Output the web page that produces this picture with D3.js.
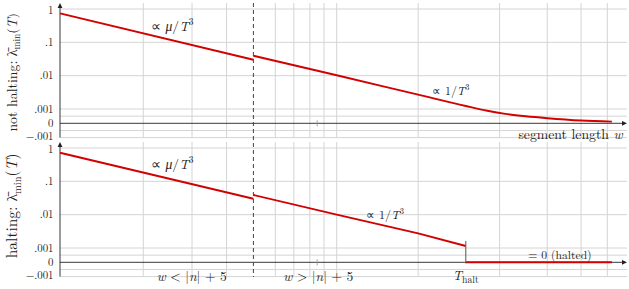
<!DOCTYPE html>
<html><head><meta charset="utf-8">
<script src="https://cdn.jsdelivr.net/npm/d3@7"></script>
<style>
body{margin:0;background:#fff}
svg{display:block}
text{font-family:"Latin Modern Roman","Liberation Serif",serif;fill:#222}
</style>
</head><body>
<svg id="c" width="629" height="289"></svg>
<script>
// ---- data ----
const xGridValues = [2, 3, 4, 6, 7, 8, 9, 10, 20, 40, 60, 80, 100];
const yGridValues = [1, 0.1, 0.01, 0.001, 0.0005, -0.0005, -0.001];
const yTickValues = [1, 0.1, 0.01, 0.001, 0, -0.001];
const yTickLabels = ["1", ".1", ".01", ".001", "0", "\u2212.001"];
const wSplit = 5;
const tHalt = 30;
const wMarker = 8.5;

const notHaltW1 = [1, 5];
const notHaltV1 = [0.74, 0.030];
const notHaltW2 = [5, 10, 20, 30, 36, 42, 50, 60, 80, 104];
const notHaltV2 = [0.0397, 0.0103, 0.00269, 0.00123, 0.00088, 0.00066, 0.00049, 0.000357, 0.000196, 0.000119];

const haltW1 = [1, 5];
const haltV1 = [0.72, 0.030];
const haltW2 = [5, 10, 20, 30];
const haltV2 = [0.039, 0.0100, 0.00276, 0.00115];
const haltW3 = [30, 104];
const haltV3 = [0, 0];

// ---- layout ----
const svg = d3.select("#c");
const X0 = 60, XEND = 627;
const x = d3.scaleLog().domain([1, 10, 100]).range([60, 336.7, 607.3]);
const RED = "#d20000", GRID = "#d4d4d4", AXIS = "#222";
const tickNudge = { "1": 1, "-0.001": -0.9 };

function makeY(off) {
  const logY = d3.scaleLog().domain([0.001, 1]).range([109 + off, 9 + off]);
  const linY = d3.scaleLinear().domain([-0.001, 0.001]).range([137.6 + off, 109 + off]);
  return v => (v >= 0.001 ? logY(v) : linY(v));
}
function zip(ws, vs) { return ws.map((w, i) => [w, vs[i]]); }

function fit(t, target) {
  const node = t.node();
  const fs = parseFloat(t.attr("font-size"));
  const len = node.getComputedTextLength();
  if (len > 0) t.attr("font-size", (fs * target / len).toFixed(2));
  return t;
}

function arrowUp(g, cx, cy) {
  g.append("path").attr("d", `M${cx},${cy} L${cx - 2.4},${cy + 5} L${cx + 2.4},${cy + 5} Z`).attr("fill", AXIS);
}
function arrowRight(g, cx, cy) {
  g.append("path").attr("d", `M${cx},${cy} L${cx - 5},${cy - 2.4} L${cx - 5},${cy + 2.4} Z`).attr("fill", AXIS);
}

function panel(off, series, yLabelText, labelCenter, labelWidth) {
  const y = makeY(off);
  const g = svg.append("g");
  const top = 3 + off, bot = y(-0.001);
  g.selectAll(".hg").data(yGridValues).join("line")
    .attr("x1", X0).attr("x2", XEND).attr("y1", d => y(d)).attr("y2", d => y(d))
    .attr("stroke", GRID).attr("stroke-width", 1);
  g.selectAll(".vg").data(xGridValues).join("line")
    .attr("x1", d => x(d)).attr("x2", d => x(d)).attr("y1", top).attr("y2", bot)
    .attr("stroke", GRID).attr("stroke-width", 1);
  g.append("line").attr("x1", X0).attr("x2", XEND - 3).attr("y1", y(0)).attr("y2", y(0))
    .attr("stroke", AXIS).attr("stroke-width", 0.9);
  arrowRight(g, XEND, y(0));
  g.append("line").attr("x1", X0).attr("x2", X0).attr("y1", bot).attr("y2", top + 3)
    .attr("stroke", AXIS).attr("stroke-width", 0.9);
  arrowUp(g, X0, top);
  g.append("line").attr("x1", x(wMarker)).attr("x2", x(wMarker)).attr("y1", y(0) - 3).attr("y2", y(0) + 3)
    .attr("stroke", "#999").attr("stroke-width", 0.9);
  g.selectAll(".tick").data(yTickValues).join("text").attr("class", "tick")
    .attr("x", 53.5).attr("y", d => y(d) + (tickNudge[String(d)] || 0)).attr("dy", "0.35em")
    .attr("text-anchor", "end").attr("font-size", 10.8)
    .text((d, i) => yTickLabels[i]);
  const yl = g.append("text").attr("transform", `translate(17,${labelCenter}) rotate(-90)`)
    .attr("text-anchor", "middle").attr("font-size", 14);
  yl.append("tspan").text(yLabelText + " \u03BB\u0304");
  yl.append("tspan").attr("font-size", "0.68em").attr("dy", "0.35em").text("min");
  yl.append("tspan").attr("dy", "-0.24em").text("(");
  yl.append("tspan").attr("font-style", "italic").text("T");
  yl.append("tspan").text(")");
  fit(yl, labelWidth);
  const line = d3.line().x(d => x(d[0])).y(d => y(d[1]));
  series.forEach(s => {
    g.append("path").attr("d", line.curve(s.curve || d3.curveLinear)(s.pts))
      .attr("fill", "none").attr("stroke", RED).attr("stroke-width", 1.9)
      .attr("stroke-linejoin", "round");
  });
  return y;
}

const yTop = panel(0, [
  { pts: zip(notHaltW1, notHaltV1) },
  { pts: zip(notHaltW2, notHaltV2), curve: d3.curveMonotoneX }
], "not halting:", 72.3, 118.7);

const yBot = panel(139, [
  { pts: zip(haltW1, haltV1) },
  { pts: zip(haltW2, haltV2) },
  { pts: zip(haltW3, haltV3) }
], "halting:", 205.8, 105);

svg.append("line").attr("x1", x(wSplit)).attr("x2", x(wSplit)).attr("y1", 3).attr("y2", 277)
  .attr("stroke", "#444").attr("stroke-width", 1).attr("stroke-dasharray", "4,3");

svg.append("line").attr("x1", x(tHalt)).attr("x2", x(tHalt)).attr("y1", yBot(0.00115) - 5).attr("y2", yBot(0) + 1)
  .attr("stroke", "#555").attr("stroke-width", 1);

function prop(xp, yp, num, width) {
  const t = svg.append("text").attr("x", xp).attr("y", yp).attr("font-size", 13);
  t.append("tspan").text("\u221D ");
  if (num === "mu") t.append("tspan").attr("font-style", "italic").text("\u03BC");
  else t.append("tspan").text("1");
  t.append("tspan").text("/");
  t.append("tspan").attr("font-style", "italic").text("T");
  t.append("tspan").attr("font-size", "0.7em").attr("dy", "-0.6em").text("3");
  fit(t, width);
}
prop(151, 30.5, "mu", 42);
prop(151, 169, "mu", 42);
prop(432, 95, "one", 36.6);
prop(366, 219, "one", 37.3);

const sl = svg.append("text").attr("x", 622.7).attr("y", 139).attr("text-anchor", "end").attr("font-size", 13.5);
sl.append("tspan").text("segment length ");
sl.append("tspan").attr("font-style", "italic").text("w");
fit(sl, 104.4);

function cond(cx, sym) {
  const t = svg.append("text").attr("x", cx).attr("y", 281).attr("text-anchor", "middle").attr("font-size", 13.5);
  t.append("tspan").attr("font-style", "italic").text("w");
  t.append("tspan").text(" " + sym + " |");
  t.append("tspan").attr("font-style", "italic").text("n");
  t.append("tspan").text("| + 5");
  fit(t, 70);
}
cond(191.7, "<");
cond(318.3, ">");

const th = svg.append("text").attr("x", x(tHalt)).attr("y", 280).attr("text-anchor", "middle").attr("font-size", 13.5);
th.append("tspan").attr("font-style", "italic").text("T");
th.append("tspan").attr("font-size", "0.75em").attr("dy", "0.3em").text("halt");
fit(th, 26);

const hz = svg.append("text").attr("x", 560).attr("y", 259).attr("text-anchor", "middle").attr("font-size", 12)
  .text("= 0 (halted)");
fit(hz, 63.4);
</script>
</body></html>
